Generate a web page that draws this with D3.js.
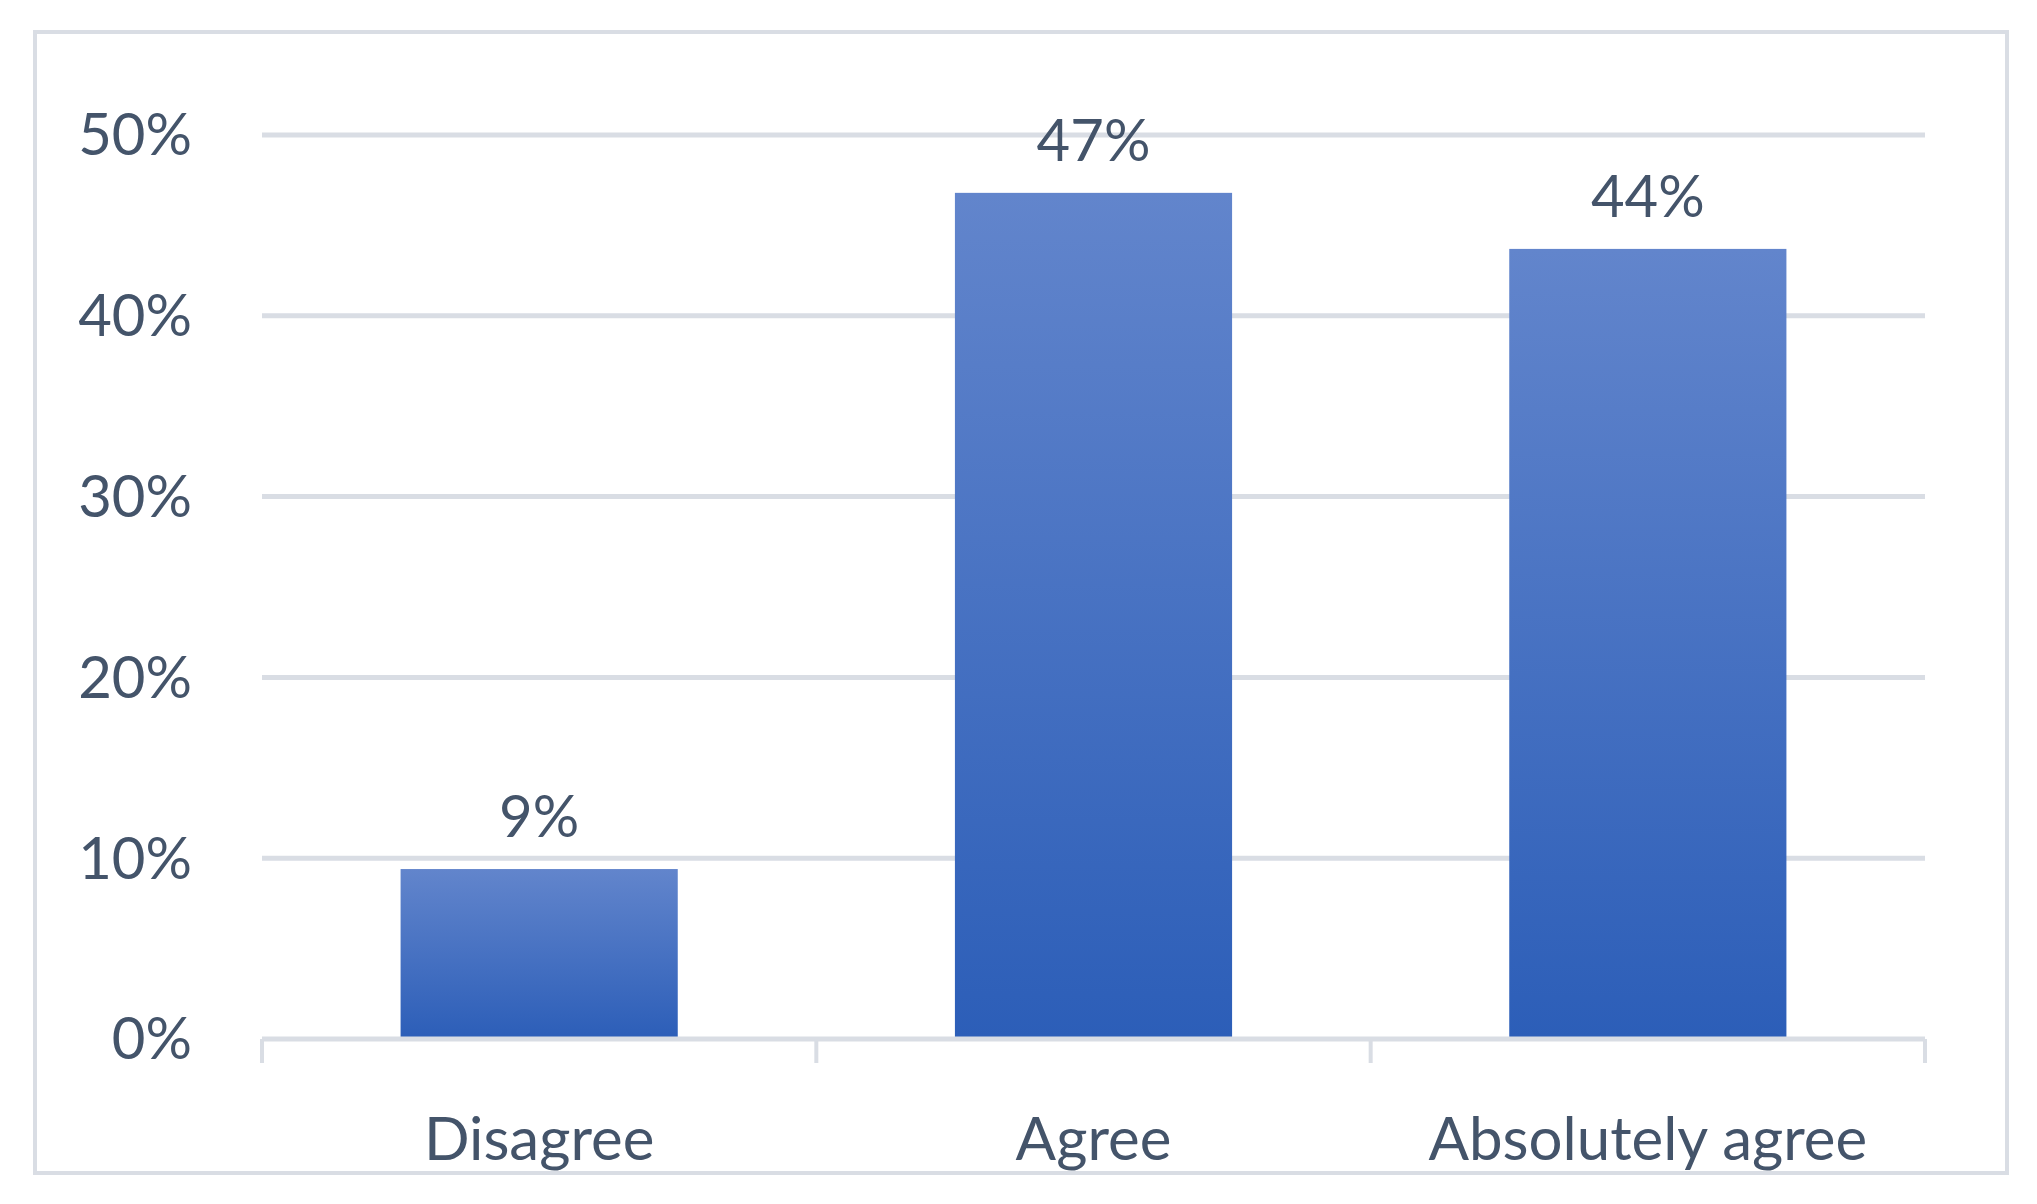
<!DOCTYPE html><html><head><meta charset="utf-8">
<script src="https://cdn.jsdelivr.net/npm/d3@7"></script>
<style>body{margin:0;background:#fff}svg{display:block}</style></head><body>
<script>
const categories=["Disagree","Agree","Absolutely agree"];
const values=[9.4,46.8,43.7];
const labels=["9%","47%","44%"];
const ticks=[0,10,20,30,40,50];
const W=2037,H=1204;
const svg=d3.select("body").append("svg").attr("width",W).attr("height",H);
const defs=svg.append("defs");
const g=defs.append("linearGradient").attr("id","bg").attr("x1",0).attr("y1",0).attr("x2",0).attr("y2",1);
g.append("stop").attr("offset",0).attr("stop-color","#6285cc");
g.append("stop").attr("offset",1).attr("stop-color","#2c5eb8");
defs.append("clipPath").attr("id","cp").append("rect").attr("x",35).attr("y",32).attr("width",1972).attr("height",1141);
svg.append("rect").attr("x",35).attr("y",32).attr("width",1972).attr("height",1141).attr("fill","#fff").attr("stroke","#d9dde4").attr("stroke-width",4);
const x=d3.scaleBand().domain(categories).range([262,1925]).paddingInner(0.5).paddingOuter(0.25);
const y=d3.scaleLinear().domain([0,50]).range([1039,135]);
const font="Lato, 'Liberation Sans', sans-serif", col="#44546a";
svg.append("g").selectAll("line").data(ticks.slice(1)).join("line")
 .attr("x1",262).attr("x2",1925).attr("y1",d=>y(d)).attr("y2",d=>y(d)).attr("stroke","#d9dde4").attr("stroke-width",5);
svg.append("g").selectAll("text").data(ticks).join("text")
 .attr("x",192).attr("y",d=>y(d)).attr("dy","0.35em").attr("text-anchor","end")
 .attr("font-family",font).attr("font-size",58).attr("fill",col).text(d=>d+"%");
svg.append("g").selectAll("rect").data(values).join("rect")
 .attr("x",(d,i)=>x(categories[i])).attr("width",x.bandwidth()).attr("y",d=>y(d)).attr("height",d=>y(0)-y(d)).attr("fill","url(#bg)");
svg.append("line").attr("x1",262).attr("x2",1925).attr("y1",y(0)).attr("y2",y(0)).attr("stroke","#d9dde4").attr("stroke-width",5);
const step=x.step();
svg.append("g").selectAll("line").data(d3.range(4)).join("line")
 .attr("x1",d=>262+d*(1663/3)).attr("x2",d=>262+d*(1663/3)).attr("y1",y(0)).attr("y2",y(0)+24).attr("stroke","#d9dde4").attr("stroke-width",4);
svg.append("g").selectAll("text").data(values).join("text")
 .attr("x",(d,i)=>x(categories[i])+x.bandwidth()/2).attr("y",d=>y(d)-32).attr("text-anchor","middle")
 .attr("font-family",font).attr("font-size",58).attr("fill",col).text((d,i)=>labels[i]);
svg.append("g").attr("clip-path","url(#cp)").selectAll("text").data(categories).join("text")
 .attr("x",d=>x(d)+x.bandwidth()/2).attr("y",1160).attr("text-anchor","middle")
 .attr("font-family",font).attr("font-size",60).attr("fill",col).text(d=>d);
</script></body></html>
